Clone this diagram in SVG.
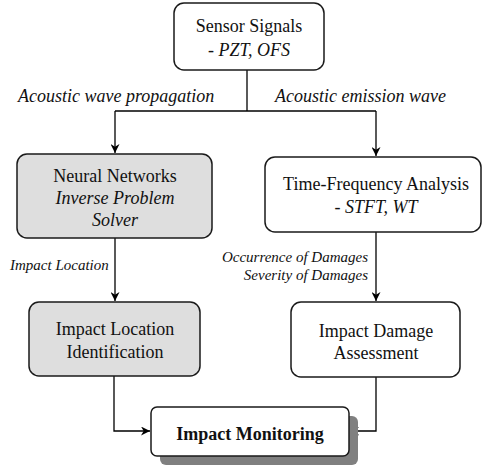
<svg xmlns="http://www.w3.org/2000/svg" width="483" height="466" viewBox="0 0 483 466" font-family="'Liberation Serif', 'Times New Roman', 'DejaVu Serif', serif">
<defs>
<marker id="arr" viewBox="0 0 10 10" refX="10" refY="5" markerWidth="9" markerHeight="9" markerUnits="userSpaceOnUse" orient="auto">
<path d="M0,0 L10,5 L0,10 L3,5 z" fill="#000"/>
</marker>
<style>
.box{fill:#fff;stroke:#1a1a1a;stroke-width:1.5}
.gray{fill:#dedede;stroke:#1a1a1a;stroke-width:1.5}
.t{font-size:18px;fill:#111;text-anchor:middle}
.i{font-style:italic}
.lab{font-style:italic;fill:#111}
.c{fill:none;stroke:#000;stroke-width:1.3}
</style>
</defs>
<rect width="483" height="466" fill="#fff"/>
<g id="connectors">
<path class="c" d="M247,70 V111"/>
<path class="c" d="M115,111 H376"/>
<path class="c" d="M115,111 V153" marker-end="url(#arr)"/>
<path class="c" d="M376,111 V156" marker-end="url(#arr)"/>
<path class="c" d="M115,238 V301" marker-end="url(#arr)"/>
<path class="c" d="M376,232 V301" marker-end="url(#arr)"/>
<path class="c" d="M114,376 V431 H150" marker-end="url(#arr)"/>
<path class="c" d="M376,377 V431 H350" marker-end="url(#arr)"/>
<text class="lab" x="18" y="102" font-size="18">Acoustic wave propagation</text>
<text class="lab" x="275" y="102" font-size="18">Acoustic emission wave</text>
<text class="lab" x="10" y="270" font-size="15">Impact Location</text>
<text class="lab" x="368" y="262" font-size="15" text-anchor="end">Occurrence of Damages</text>
<text class="lab" x="368" y="280" font-size="15" text-anchor="end">Severity of Damages</text>
</g>
<g id="sensor">
<rect class="box" x="174" y="3" width="150" height="67" rx="10"/>
<text class="t" x="249" y="32" font-size="20">Sensor Signals</text>
<text class="t" x="249" y="56" font-size="20">- <tspan class="i">PZT, OFS</tspan></text>
</g>
<g id="neural">
<rect class="gray" x="17" y="154" width="195" height="84" rx="10"/>
<text class="t" x="115" y="182">Neural Networks</text>
<text class="t i" x="115" y="204">Inverse Problem</text>
<text class="t i" x="115" y="226">Solver</text>
</g>
<g id="tfa">
<rect class="box" x="265" y="157" width="216" height="75" rx="10"/>
<text class="t" x="376" y="190">Time-Frequency Analysis</text>
<text class="t" x="376" y="213">- <tspan class="i">STFT, WT</tspan></text>
</g>
<g id="location">
<rect class="gray" x="29" y="302" width="171" height="74" rx="10"/>
<text class="t" x="115" y="335">Impact Location</text>
<text class="t" x="115" y="358">Identification</text>
</g>
<g id="damage">
<rect class="box" x="291" y="302" width="169" height="75" rx="10"/>
<text class="t" x="376" y="337">Impact Damage</text>
<text class="t" x="376" y="359">Assessment</text>
</g>
<g id="monitoring">
<rect x="160" y="416" width="198" height="49" rx="6" fill="#808080"/>
<rect class="box" x="151" y="407" width="198" height="49" rx="6"/>
<text class="t" x="250" y="440" font-size="20" font-weight="bold">Impact Monitoring</text>
</g>
</svg>
